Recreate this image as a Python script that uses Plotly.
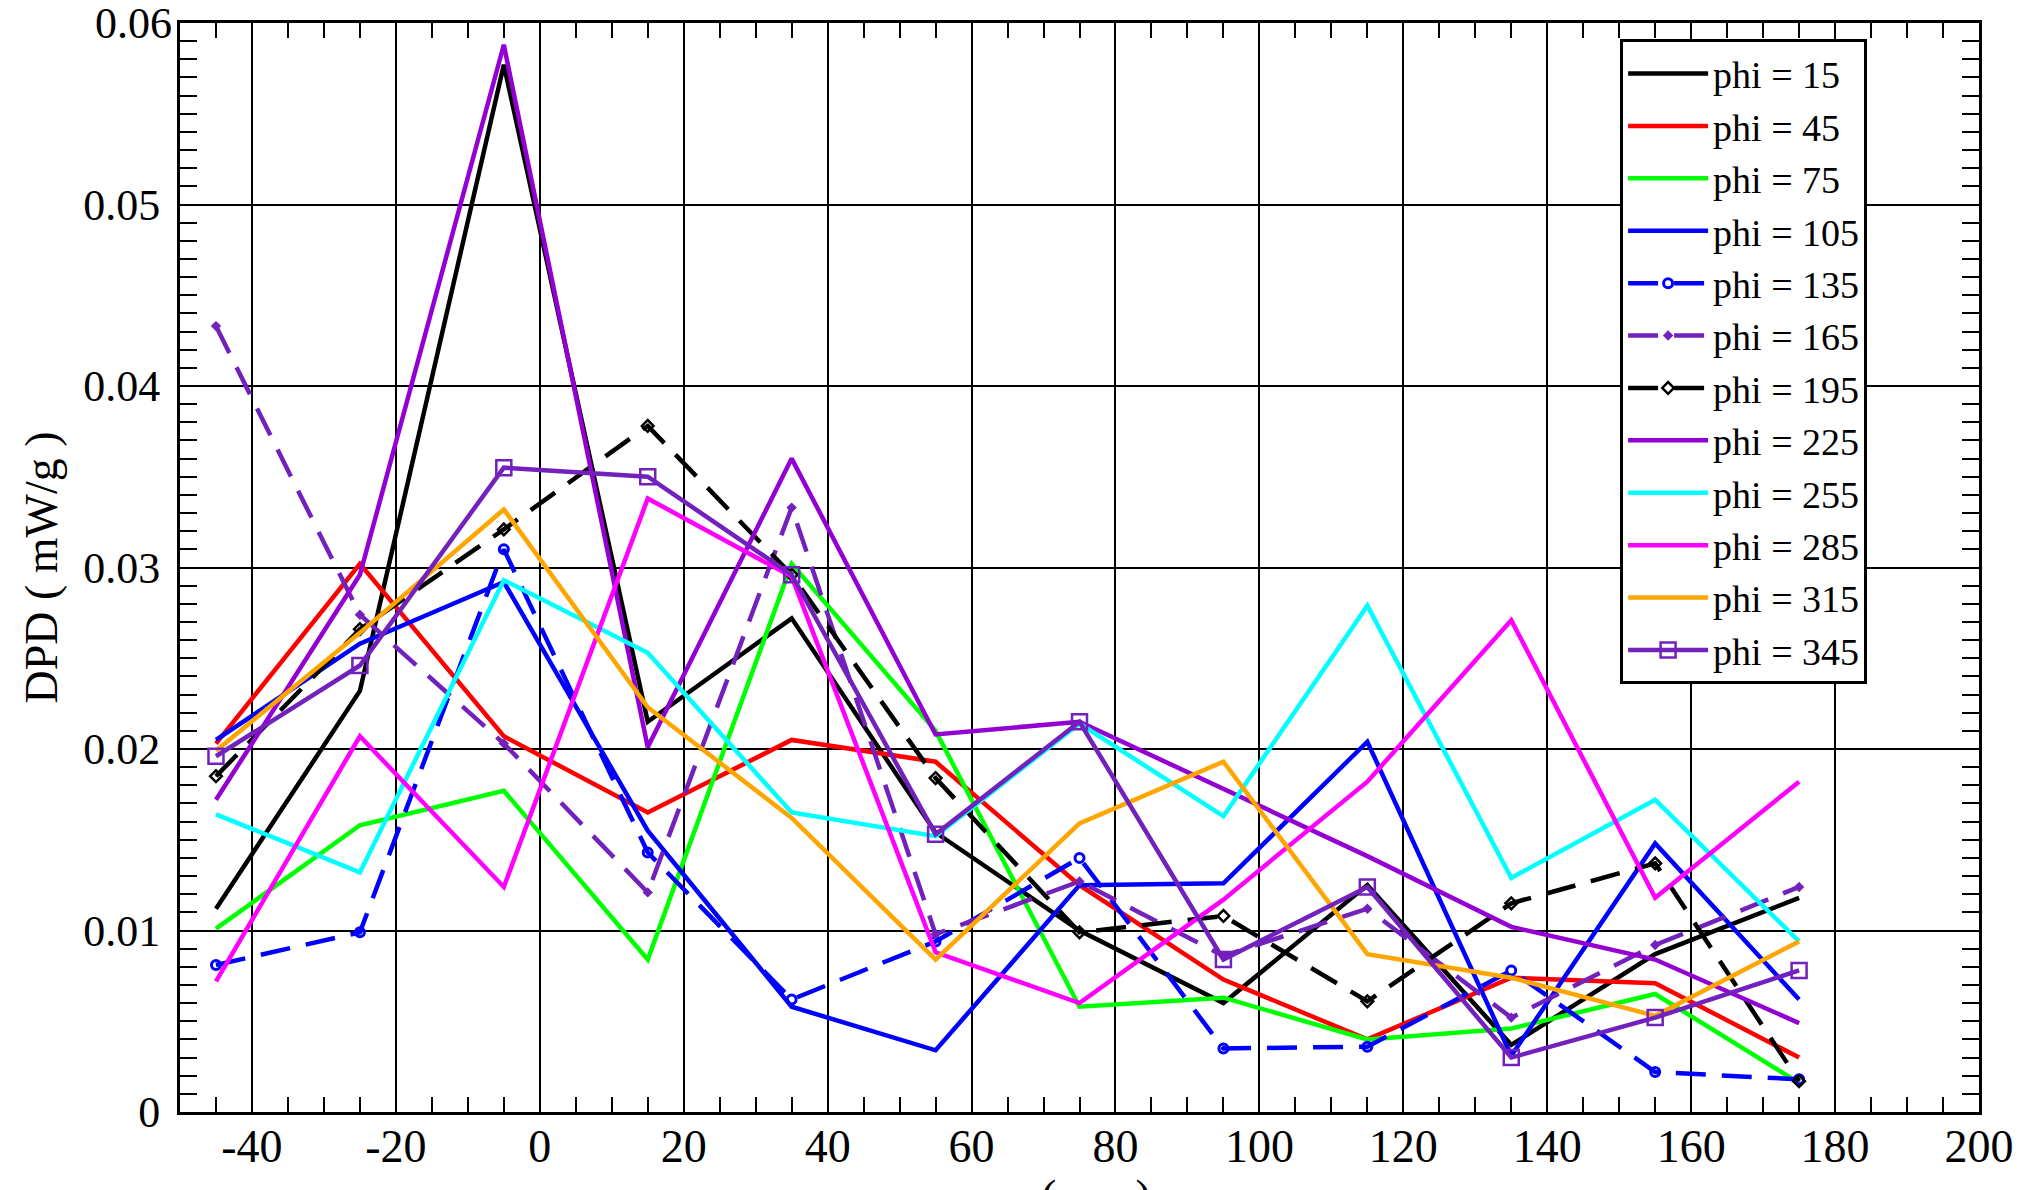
import plotly.graph_objects as go

# Axial positions (cm) where the dose was sampled
z = [-45, -25, -5, 15, 35, 55, 75, 95, 115, 135, 155, 175]

# DPD (mW/g) for each azimuthal angle phi
phi15 = [0.0112, 0.0232, 0.0577, 0.0215, 0.0272, 0.0154, 0.0100, 0.0060, 0.0125, 0.0037, 0.0087, 0.0118]
phi45 = [0.0203, 0.0302, 0.0207, 0.0165, 0.0205, 0.0193, 0.0125, 0.0073, 0.0040, 0.0074, 0.0071, 0.0030]
phi75 = [0.0101, 0.0158, 0.0177, 0.0084, 0.0302, 0.0210, 0.0058, 0.0063, 0.0040, 0.0046, 0.0065, 0.0016]
phi105 = [0.0205, 0.0258, 0.0292, 0.0155, 0.0058, 0.0034, 0.0125, 0.0126, 0.0204, 0.0031, 0.0148, 0.0062]
phi135 = [0.0081, 0.0099, 0.0310, 0.0143, 0.0062, 0.0094, 0.0140, 0.0035, 0.0036, 0.0078, 0.0022, 0.0018]
phi165 = [0.0433, 0.0274, 0.0203, 0.0121, 0.0333, 0.0098, 0.0127, 0.0086, 0.0112, 0.0052, 0.0092, 0.0124]
phi195 = [0.0185, 0.0266, 0.0321, 0.0378, 0.0296, 0.0184, 0.0099, 0.0108, 0.0061, 0.0115, 0.0137, 0.0017]
phi225 = [0.0172, 0.0296, 0.0588, 0.0201, 0.0360, 0.0208, 0.0215, 0.0178, 0.0141, 0.0102, 0.0084, 0.0049]
phi255 = [0.0164, 0.0132, 0.0293, 0.0253, 0.0165, 0.0152, 0.0214, 0.0163, 0.0279, 0.0129, 0.0172, 0.0094]
phi285 = [0.0072, 0.0207, 0.0124, 0.0338, 0.0295, 0.0088, 0.0060, 0.0117, 0.0182, 0.0271, 0.0118, 0.0182]
phi315 = [0.0199, 0.0264, 0.0332, 0.0223, 0.0162, 0.0084, 0.0159, 0.0193, 0.0087, 0.0074, 0.0053, 0.0094]
phi345 = [0.0196, 0.0246, 0.0355, 0.0350, 0.0296, 0.0153, 0.0215, 0.0084, 0.0124, 0.0030, 0.0052, 0.0078]

x_ticks = [-40, -20, 0, 20, 40, 60, 80, 100, 120, 140, 160, 180, 200]
x_tick_labels = ["-40", "-20", "0", "20", "40", "60", "80", "100", "120", "140", "160", "180", "200"]
y_ticks = [0, 0.01, 0.02, 0.03, 0.04, 0.05, 0.06]
y_tick_labels = ["0", "0.01", "0.02", "0.03", "0.04", "0.05", "0.06"]

VIOLET = "#9400D3"
INDIGO = "#7221BC"
DASH = "30px,16px"
FONT = "Liberation Serif"
TICK_FONT = dict(family=FONT, size=44, color="black")

series = [
    ("phi = 15", phi15, dict(color="black"), None),
    ("phi = 45", phi45, dict(color="#FF0000"), None),
    ("phi = 75", phi75, dict(color="#00FF00"), None),
    ("phi = 105", phi105, dict(color="#0000FF"), None),
    ("phi = 135", phi135, dict(color="#0000FF", dash=DASH),
     dict(symbol="circle-open", size=9, color="#0000FF", line=dict(width=3))),
    ("phi = 165", phi165, dict(color=INDIGO, dash=DASH),
     dict(symbol="diamond", size=8, color=INDIGO)),
    ("phi = 195", phi195, dict(color="black", dash=DASH),
     dict(symbol="diamond-open", size=9, color="black", line=dict(width=2.5))),
    ("phi = 225", phi225, dict(color=VIOLET), None),
    ("phi = 255", phi255, dict(color="#00FFFF"), None),
    ("phi = 285", phi285, dict(color="#FF00FF"), None),
    ("phi = 315", phi315, dict(color="#FFA500"), None),
    ("phi = 345", phi345, dict(color=INDIGO),
     dict(symbol="square-open", size=15, color=INDIGO, line=dict(width=2.5))),
]

fig = go.Figure()
for name, vals, line, marker in series:
    line = dict(line, width=4.5)
    if marker is None:
        fig.add_trace(go.Scatter(x=z, y=vals, name=name, mode="lines", line=line))
    else:
        fig.add_trace(go.Scatter(x=z, y=vals, name=name, mode="lines+markers",
                                 line=line, marker=marker))

axis_common = dict(
    showline=True, linecolor="black", linewidth=3, mirror="allticks",
    showgrid=True, gridcolor="black", gridwidth=2,
    zeroline=False,
    ticks="inside", ticklen=16, tickwidth=2, tickcolor="black",
)

fig.update_xaxes(
    **axis_common,
    range=[-50, 200],
    tickvals=x_ticks,
    ticktext=x_tick_labels,
    tickfont=dict(family=FONT, size=46, color="black"),
    ticklabelstandoff=-8,
    minor=dict(dtick=5, tick0=0, ticks="inside", ticklen=15, tickwidth=2,
               tickcolor="black", showgrid=False),
)
fig.update_yaxes(
    **axis_common,
    range=[0, 0.06],
    tickvals=y_ticks[:-1],
    ticktext=y_tick_labels[:-1],
    tickfont=TICK_FONT,
    ticklabelstandoff=8,
    minor=dict(dtick=0.001, tick0=0, ticks="inside", ticklen=17, tickwidth=2,
               tickcolor="black", showgrid=False),
    title=dict(text="DPD ( mW/g )", font=dict(family=FONT, size=46, color="black"),
               standoff=12),
)

# the top y label touches the upper edge of the canvas, so it is placed
# as an annotation at the same data value (axis labels there get culled)
fig.add_annotation(
    text=y_tick_labels[-1], xref="paper", yref="y", x=0, y=y_ticks[-1],
    xanchor="right", yanchor="middle", xshift=-6, showarrow=False,
    font=TICK_FONT,
)

# x-axis title sits low, partly below the bottom edge of the canvas
fig.add_annotation(
    text="z ( cm )", xref="paper", yref="paper", x=0.5, y=-0.052,
    xanchor="center", yanchor="top", showarrow=False,
    font=dict(family=FONT, size=46, color="black"),
)

fig.update_layout(
    width=2035, height=1190,
    margin=dict(l=180, r=56, t=23, b=78, autoexpand=False),
    plot_bgcolor="white", paper_bgcolor="white",
    font=dict(family=FONT, color="black"),
    legend=dict(
        x=0.8005, y=0.985, xanchor="left", yanchor="top",
        bgcolor="white", bordercolor="black", borderwidth=3,
        font=dict(family=FONT, size=38, color="black"),
        itemwidth=80,
        tracegroupgap=0,
    ),
    showlegend=True,
)

fig.write_html("out.html")
